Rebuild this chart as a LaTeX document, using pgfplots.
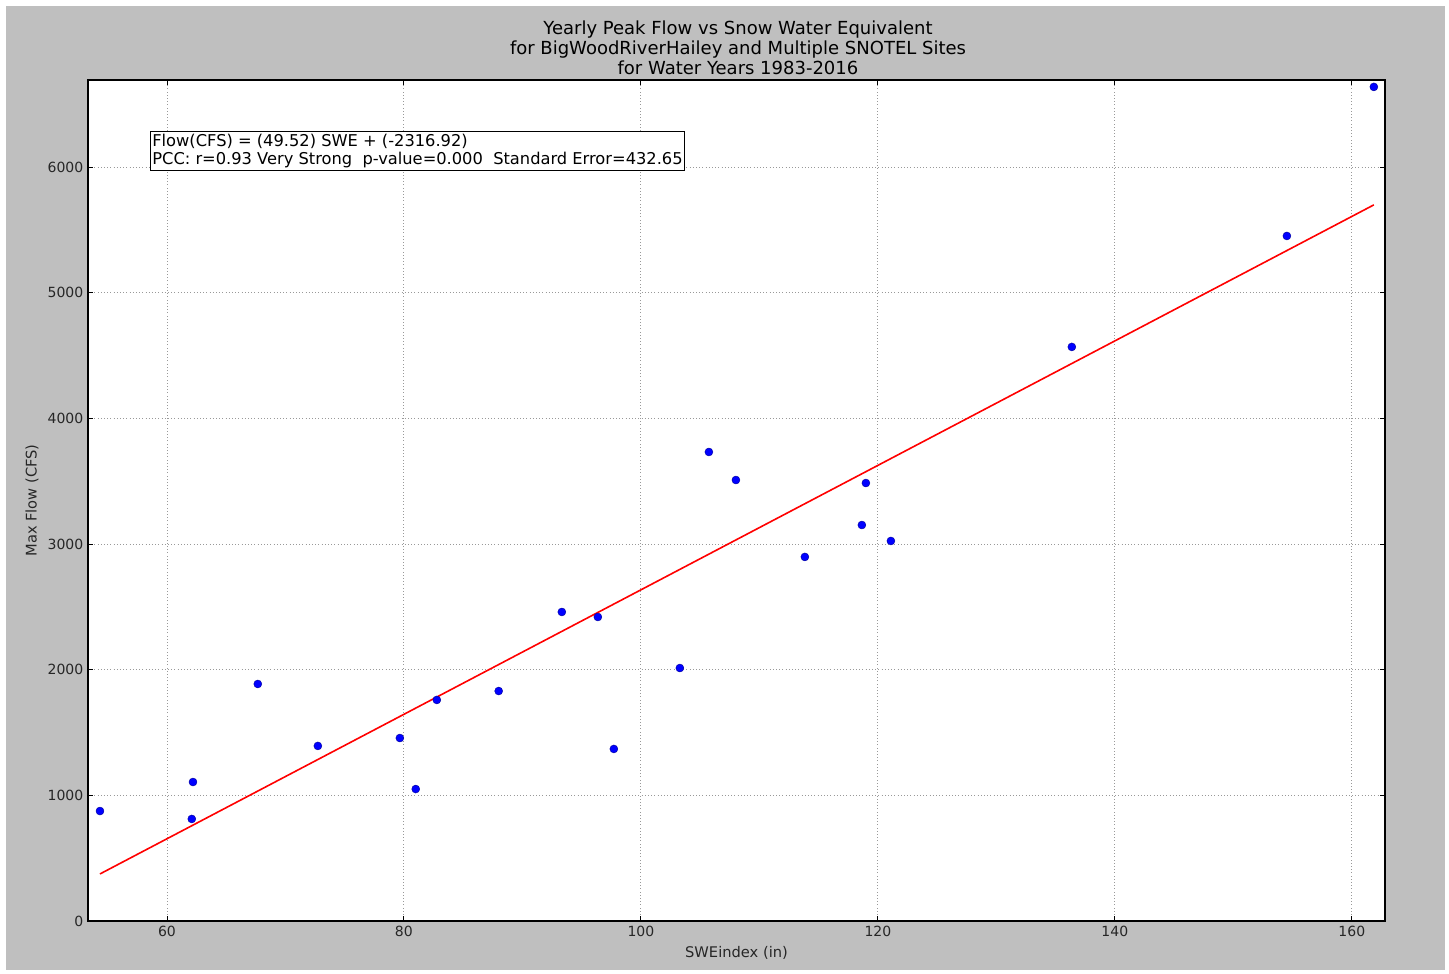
\documentclass[border=0pt]{standalone}
\usepackage{pgfplots}
\pgfplotsset{compat=1.18}
\usepackage{fontspec}
\setmainfont{DejaVu Sans}
\definecolor{figgray}{RGB}{191,191,191}
\pgfplotstableread{
x y
54.35 875
62.10 812
62.20 1106
67.67 1886
72.74 1393
79.66 1456
81.00 1050
82.78 1759
88.00 1830
93.33 2459
96.37 2419
97.72 1369
103.29 2013
105.74 3732
108.02 3509
113.84 2897
118.65 3151
118.99 3485
121.10 3024
136.37 4568
154.52 5451
161.86 6637
}\pts
\begin{document}
\begin{tikzpicture}[x=0.75pt,y=0.75pt]
\fill[white] (0,0) rectangle (1449,974);
\fill[figgray] (6,4) rectangle (1445,968);
\node[align=center, font=\fontsize{13.5}{14.8}\selectfont, anchor=center] at (738,926)
  {Yearly Peak Flow vs Snow Water Equivalent\\for BigWoodRiverHailey and Multiple SNOTEL Sites\\for Water Years 1983-2016};
\begin{axis}[
  at={(66pt,39.75pt)}, anchor=south west,
  scale only axis, width=972.75pt, height=630.75pt,
  xmin=53.34, xmax=162.8, ymin=0, ymax=6692,
  xtick={60,80,...,160}, ytick={0,1000,...,6000},
  axis background/.style={fill=white},
  axis line style={line width=1pt, black},
  grid=major,
  major grid style={gray!80, dotted, line width=0.6pt},
  tick style={black, line width=0.6pt},
  major tick length=4pt,
  tick align=inside,
  /pgf/number format/assume math mode=true,
  /pgf/number format/1000 sep={},
  tick label style={font=\fontsize{10.5}{12}\selectfont, text=black!85},
  xlabel={SWEindex (in)}, ylabel={Max Flow (CFS)},
  label style={font=\fontsize{11}{12}\selectfont, text=black!85},
  xlabel style={at={(axis description cs:0.5,-0.038)}, anchor=center},
  ylabel style={at={(axis description cs:-0.0432,0.5)}, anchor=center},
  clip=false,
]
\addplot[only marks, mark=*, mark size=3pt, mark options={fill=blue, draw=blue!60!black, line width=0.3pt}] table[x=x,y=y] {\pts};
\addplot[red, line width=1.2pt] coordinates {(54.35,374.3) (161.86,5698.4)};
\node[anchor=north west, draw=black, line width=0.75pt, fill=white, inner xsep=1.5pt, inner ysep=2pt, align=left, font=\fontsize{12.2}{13.5}\selectfont]
  at (axis cs:58.56,6286) {Flow(CFS) = (49.52) SWE + (-2316.92)\\PCC: r=0.93 Very Strong\ \ p-value=0.000\ \ Standard Error=432.65};
\end{axis}
\end{tikzpicture}
\end{document}
